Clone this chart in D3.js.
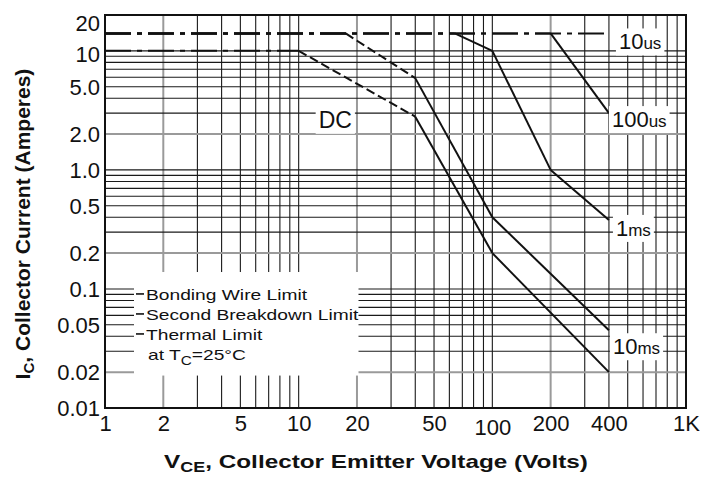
<!DOCTYPE html>
<html>
<head>
<meta charset="utf-8">
<script src="https://cdn.jsdelivr.net/npm/d3@7"></script>
<style>
  body { margin: 0; background: #fff; }
  text { font-family: "Liberation Sans", Arial, sans-serif; fill: #111; }
  .tick-label { font-size: 22px; }
  .axis-title { font-size: 19px; font-weight: bold; }
  .curve-label { font-size: 22px; }
  .legend { font-size: 15px; }
</style>
</head>
<body>
<svg id="chart" width="715" height="477"></svg>
<script>
// axis ticks
const voltTicks = [1, 2, 5, 10, 20, 50, 100, 200, 400, 1000];
const voltLabels = ['1', '2', '5', '10', '20', '50', '100', '200', '400', '1K'];
const ampTicks = [20, 10, 5, 2, 1, 0.5, 0.2, 0.1, 0.05, 0.02, 0.01];
const ampLabels = ['20', '10', '5.0', '2.0', '1.0', '0.5', '0.2', '0.1', '0.05', '0.02', '0.01'];

// safe operating area curves: [volts, amps]
const curve10us = [[1, 14], [400, 14]];
const curve100us = [[1, 14], [200, 14], [400, 3.0]];
const curve1ms = [[1, 14], [64, 14], [100, 10], [200, 1.0], [400, 0.38]];
const curve10ms = [[1, 14], [17.5, 14], [40, 5.9], [100, 0.4], [400, 0.045]];
const curveDC = [[1, 10], [10, 10], [40, 2.8], [100, 0.2], [400, 0.02]];

// which limit each segment belongs to
const kinds10us = ['bond'];
const kinds100us = ['bond', 'sb'];
const kinds1ms = ['bond', 'sb', 'sb', 'sb'];
const kinds10ms = ['bond', 'thermal', 'sb', 'sb'];
const kindsDC = ['bond', 'thermal', 'sb', 'sb'];

const curveNames = ['10us', '100us', '1ms', '10ms', 'DC'];
const legendLines = ['Bonding Wire Limit', 'Second Breakdown Limit', 'Thermal Limit'];

const svg = d3.select('#chart');
const margin = { top: 15, right: 29, bottom: 69, left: 105 };
const W = 715, H = 477;
const stretch = 1.28; // the scanned sheet is wider than tall

const x = d3.scaleLog().domain([1, 1000]).range([margin.left, W - margin.right]);
const y = d3.scaleLog().domain([0.01, 20]).range([H - margin.bottom, margin.top]);

const x0 = x.range()[0], x1 = x.range()[1];
const y0 = y.range()[1], y1 = y.range()[0];

function lead(v) {
  return Math.round(v / Math.pow(10, Math.floor(Math.log10(v) + 1e-9)));
}

// grid
const grid = svg.append('g');
grid.selectAll('line.v')
  .data(x.ticks())
  .enter().append('line')
  .attr('x1', (d) => x(d)).attr('x2', (d) => x(d))
  .attr('y1', y0).attr('y2', y1)
  .attr('stroke', (d) => lead(d) === 2 ? '#9a9a9a' : '#1a1a1a')
  .attr('stroke-width', (d) => lead(d) === 2 ? 2 : 1.1);

grid.selectAll('line.h')
  .data(y.ticks().filter((d) => d < 15))
  .enter().append('line')
  .attr('y1', (d) => y(d)).attr('y2', (d) => y(d))
  .attr('x1', x0).attr('x2', x1)
  .attr('stroke', (d) => lead(d) === 2 ? '#9a9a9a' : '#1a1a1a')
  .attr('stroke-width', (d) => lead(d) === 2 ? 2 : 1.1);

// curves
const series = [
  { name: '10us', pts: curve10us, kinds: kinds10us },
  { name: '100us', pts: curve100us, kinds: kinds100us },
  { name: '1ms', pts: curve1ms, kinds: kinds1ms },
  { name: '10ms', pts: curve10ms, kinds: kinds10ms },
  { name: 'DC', pts: curveDC, kinds: kindsDC },
];

const dashes = { bond: '26,6,5,6', thermal: '9,4', sb: null };
const line = d3.line().x((d) => x(d[0])).y((d) => y(d[1]));

const marks = svg.append('g');
series.forEach((s) => {
  s.kinds.forEach((k, i) => {
    marks.append('path')
      .attr('d', line([s.pts[i], s.pts[i + 1]]))
      .attr('fill', 'none')
      .attr('stroke', '#111')
      .attr('stroke-width', 2)
      .attr('stroke-dasharray', dashes[k]);
  });
});

// curve labels with a white patch behind them
const labelPos = {
  '10us': { dx: 10, dy: 16 },
  '100us': { dx: 3, dy: 14 },
  '1ms': { dx: 7, dy: 16 },
  '10ms': { dx: 4, dy: 24 },
};
const labels = svg.append('g');
series.forEach((s) => {
  let tx, ty;
  if (s.name === 'DC') {
    tx = x(s.pts[1][0]) + 20;
    ty = y(s.pts[1][1]) + 77;
  } else {
    const end = s.pts[s.pts.length - 1];
    tx = x(end[0]) + labelPos[s.name].dx;
    ty = y(end[1]) + labelPos[s.name].dy;
  }
  const g = labels.append('g');
  const t = g.append('text')
    .attr('class', 'curve-label')
    .attr('x', tx).attr('y', ty);
  const m = s.name.match(/^(\d+)(\D+)$/);
  if (m) {
    t.append('tspan').text(m[1]);
    t.append('tspan').style('font-size', '17px').text(m[2]);
  } else {
    t.style('font-size', '23px').text(s.name);
  }
  const b = t.node().getBBox();
  g.insert('rect', 'text')
    .attr('x', b.x - 3).attr('y', b.y - 1)
    .attr('width', b.width + 6).attr('height', b.height + 2)
    .attr('fill', '#fff');
});

// legend
const leg = svg.append('g');
const legX = x(1) + 31;
const legY = y(0.1) + 11;
const legBg = leg.append('rect').attr('fill', '#fff');
legendLines.forEach((d, i) => {
  leg.append('line')
    .attr('x1', legX).attr('x2', legX + 8)
    .attr('y1', legY + i * 20 - 6).attr('y2', legY + i * 20 - 6)
    .attr('stroke', '#111').attr('stroke-width', 1.6);
  leg.append('text')
    .attr('class', 'legend')
    .attr('transform', `translate(${legX + 10},${legY + i * 20}) scale(${stretch},1)`)
    .text(d);
});
const tc = leg.append('text')
  .attr('class', 'legend')
  .attr('transform', `translate(${legX + 12},${legY + 60}) scale(${stretch},1)`);
tc.append('tspan').text('at T');
tc.append('tspan').style('font-size', '12px').attr('dy', 5).text('C');
tc.append('tspan').attr('dy', -5).text('=25°C');

const lb = leg.node().getBBox();
legBg.attr('x', lb.x - 2).attr('y', lb.y - 14)
  .attr('width', lb.width + 2).attr('height', lb.height + 22);

// frame
svg.append('rect')
  .attr('x', x0).attr('y', y0)
  .attr('width', x1 - x0).attr('height', y1 - y0)
  .attr('fill', 'none')
  .attr('stroke', '#111')
  .attr('stroke-width', 2);

// tick labels
const xAxis = d3.axisBottom(x)
  .tickValues(voltTicks)
  .tickFormat((d, i) => voltLabels[i])
  .tickSize(0)
  .tickPadding(6);
svg.append('g')
  .attr('transform', `translate(0,${y1})`)
  .call(xAxis)
  .call((g) => g.select('.domain').remove())
  .call((g) => g.selectAll('text')
    .attr('class', 'tick-label')
    .attr('font-family', null).attr('font-size', null)
    .attr('fill', '#111')
    .attr('dy', (d) => d === 100 ? '0.95em' : '0.75em'));

const yAxis = d3.axisLeft(y)
  .tickValues(ampTicks)
  .tickFormat((d, i) => ampLabels[i])
  .tickSize(0)
  .tickPadding(5);
svg.append('g')
  .attr('transform', `translate(${x0},0)`)
  .call(yAxis)
  .call((g) => g.select('.domain').remove())
  .call((g) => g.selectAll('text')
    .attr('class', 'tick-label')
    .attr('font-family', null).attr('font-size', null)
    .attr('fill', '#111')
    .attr('dy', (d) => d === 20 ? '0.7em' : d === 10 ? '0.5em' : '0.35em'));

// axis titles
const xt = svg.append('text')
  .attr('class', 'axis-title')
  .attr('transform', `translate(376,468) scale(${stretch},1)`)
  .attr('text-anchor', 'middle');
xt.append('tspan').text('V');
xt.append('tspan').style('font-size', '14px').attr('dy', 4).text('CE');
xt.append('tspan').attr('dy', -4).text(', Collector Emitter Voltage (Volts)');

const yt = svg.append('text')
  .attr('class', 'axis-title')
  .style('font-size', '21px')
  .attr('transform', 'translate(30,224) rotate(-90)')
  .attr('text-anchor', 'middle');
yt.append('tspan').text('I');
yt.append('tspan').style('font-size', '15px').attr('dy', 4).text('C');
yt.append('tspan').attr('dy', -4).text(', Collector Current (Amperes)');
</script>
</body>
</html>
